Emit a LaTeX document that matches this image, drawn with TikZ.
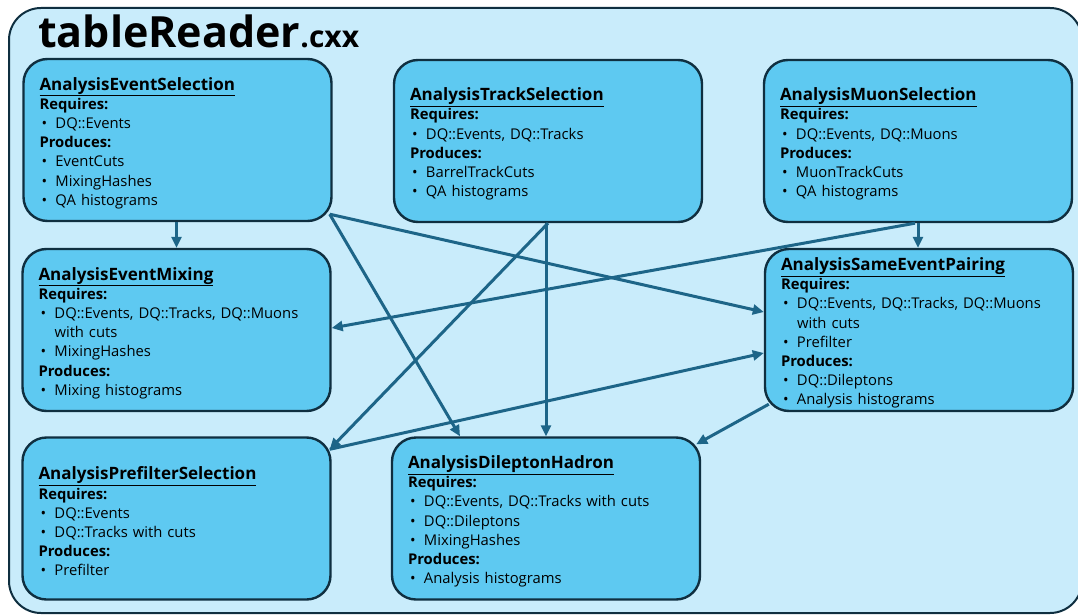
\documentclass[tikz,border=0pt]{standalone}
\usepackage{fontspec}
\setmainfont{Open Sans}
\usetikzlibrary{arrows.meta,calc}

\definecolor{panelfill}{HTML}{C9ECFB}
\definecolor{boxfill}{HTML}{5EC9F1}
\definecolor{edgeline}{HTML}{0F2F40}
\definecolor{flowline}{HTML}{1D6588}

% list helpers for the task boxes
\newcommand\tasktitle[1]{{\fontsize{17}{20}\selectfont\bfseries\underline{#1}}}
\newcommand\hd[1]{\textbf{#1}}
\newcommand\itm{\hspace*{2pt}\makebox[14pt][l]{\textbullet}}
\newcommand\cont{\hspace*{16pt}}

\tikzset{
  task/.style={draw=edgeline, line width=2.4pt, fill=boxfill,
    rounded corners=24pt, minimum width=308pt, minimum height=162pt,
    inner sep=0pt},
  tasktext/.style={text width=276pt, inner sep=0pt, align=left,
    font=\fontsize{14.8}{19.2}\selectfont},
  flow/.style={draw=flowline, line width=3pt,
    -{Triangle[length=11pt,width=10pt]}},
}
% a task: rounded box plus its description, set slightly below the box centre
\newcommand\taskbox[4]{%
  \node[task] (#1) at (#2,#3) {};
  \node[tasktext] (#1-text) at ([yshift=-3pt]#1.center) {#4};}

\begin{document}
\begin{tikzpicture}[x=1pt,y=-1pt]
\useasboundingbox (0,0) rectangle (1078,615);

% enclosing file panel
\draw[draw=edgeline, line width=2pt, fill=panelfill, rounded corners=32pt]
  (9,8) rectangle (1082,613);

\node[anchor=base west, inner sep=0pt] (title) at (38,48)
  {\fontsize{43}{43}\selectfont\bfseries tableReader\fontsize{30}{30}\selectfont .cxx};

% task boxes
\taskbox{aes}{177.5}{140}{\tasktitle{AnalysisEventSelection}\\
  \hd{Requires:}\\ \itm DQ::Events\\
  \hd{Produces:}\\ \itm EventCuts\\ \itm MixingHashes\\ \itm QA histograms}

\taskbox{ats}{548}{141}{\tasktitle{AnalysisTrackSelection}\\
  \hd{Requires:}\\ \itm DQ::Events, DQ::Tracks\\
  \hd{Produces:}\\ \itm BarrelTrackCuts\\ \itm QA histograms}

\taskbox{ams}{918}{141}{\tasktitle{AnalysisMuonSelection}\\
  \hd{Requires:}\\ \itm DQ::Events, DQ::Muons\\
  \hd{Produces:}\\ \itm MuonTrackCuts\\ \itm QA histograms}

\taskbox{aem}{176.5}{330}{\tasktitle{AnalysisEventMixing}\\
  \hd{Requires:}\\ \itm DQ::Events, DQ::Tracks, DQ::Muons\\ \cont with cuts\\
  \itm MixingHashes\\
  \hd{Produces:}\\ \itm Mixing histograms}

\taskbox{asep}{919}{330}{\tasktitle{AnalysisSameEventPairing}\\
  \hd{Requires:}\\ \itm DQ::Events, DQ::Tracks, DQ::Muons\\ \cont with cuts\\
  \itm Prefilter\\
  \hd{Produces:}\\ \itm DQ::Dileptons\\ \itm Analysis histograms}

\taskbox{aps}{176.5}{518.5}{\tasktitle{AnalysisPrefilterSelection}\\
  \hd{Requires:}\\ \itm DQ::Events\\ \itm DQ::Tracks with cuts\\
  \hd{Produces:}\\ \itm Prefilter}

\taskbox{adh}{546}{518.5}{\tasktitle{AnalysisDileptonHadron}\\
  \hd{Requires:}\\ \itm DQ::Events, DQ::Tracks with cuts\\ \itm DQ::Dileptons\\
  \itm MixingHashes\\
  \hd{Produces:}\\ \itm Analysis histograms}

% data flow between tasks
\draw[flow] ([xshift=-1pt]aes.south) -- (aem.north);
\draw[flow] ([xshift=-3pt,yshift=8pt]aes.south east) -- ([yshift=18pt]asep.west);
\draw[flow] ([xshift=-3pt,yshift=8pt]aes.south east) -- ([xshift=-86pt]adh.north);
\draw[flow] (ats.south) -- ([xshift=-2pt,yshift=-13pt]aps.north east);
\draw[flow] ([xshift=-2pt]ats.south) -- (adh.north);
\draw[flow] (ams.south) -- ([xshift=-1pt]asep.north);
\draw[flow] ([xshift=-3pt]ams.south) -- ([yshift=2pt]aem.east);
\draw[flow] ([xshift=-2pt,yshift=-13pt]aps.north east) -- ([yshift=-23pt]asep.west);
\draw[flow] ([xshift=5pt,yshift=8pt]asep.south west) -- ([xshift=-5pt,yshift=-8pt]adh.north east);
\end{tikzpicture}
\end{document}
